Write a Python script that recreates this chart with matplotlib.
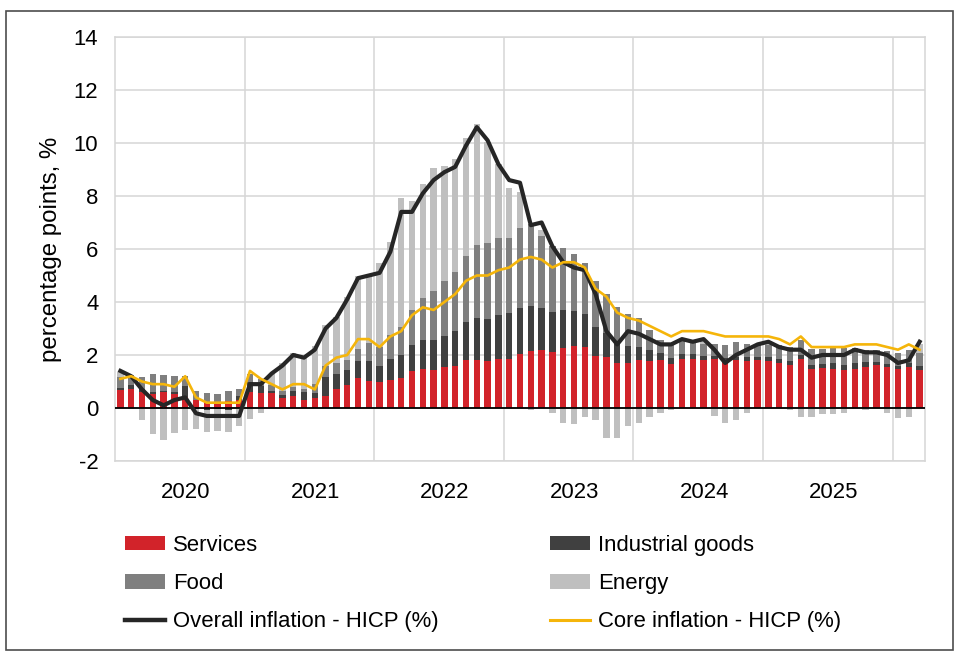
import matplotlib
matplotlib.use("Agg")
import matplotlib.pyplot as plt
import numpy as np
from matplotlib.patches import Rectangle, Patch
from matplotlib.lines import Line2D
import matplotlib.transforms as mtransforms

plt.rcParams['font.family'] = ['Liberation Sans', 'DejaVu Sans']

# ---------------- data (monthly, Jan 2020 - Mar 2026) ----------------
years = ['2020', '2021', '2022', '2023', '2024', '2025']

services = [0.68, 0.72, 0.59, 0.54, 0.59, 0.54, 0.41, 0.32, 0.23, 0.18, 0.27, 0.32,
            0.59, 0.55, 0.55, 0.38, 0.46, 0.29, 0.38, 0.46, 0.71, 0.88, 1.13, 1.01,
            0.97, 1.05, 1.13, 1.39, 1.47, 1.43, 1.55, 1.60, 1.81, 1.81, 1.76, 1.85,
            1.85, 2.02, 2.14, 2.18, 2.10, 2.27, 2.35, 2.31, 1.97, 1.93, 1.68, 1.68,
            1.80, 1.76, 1.80, 1.67, 1.85, 1.85, 1.80, 1.85, 1.80, 1.80, 1.76, 1.80,
            1.79, 1.70, 1.61, 1.84, 1.47, 1.52, 1.47, 1.43, 1.47, 1.56, 1.61, 1.56,
            1.47, 1.56, 1.45]

industrial = [0.08, 0.13, 0.13, 0.08, 0.05, 0.05, 0.42, -0.03, -0.08, -0.03, -0.08, 0.13,
              0.41, 0.27, 0.08, 0.11, 0.19, 0.32, 0.19, 0.70, 0.57, 0.54, 0.65, 0.78,
              0.60, 0.81, 0.88, 0.99, 1.09, 1.12, 1.17, 1.30, 1.43, 1.59, 1.59, 1.66,
              1.74, 1.77, 1.72, 1.61, 1.51, 1.43, 1.30, 1.22, 1.07, 0.91, 0.75, 0.65,
              0.52, 0.42, 0.29, 0.23, 0.18, 0.18, 0.18, 0.10, 0.10, 0.13, 0.16, 0.13,
              0.13, 0.16, 0.16, 0.16, 0.16, 0.13, 0.21, 0.21, 0.21, 0.16, 0.13, 0.10,
              0.10, 0.13, 0.13]

food = [0.42, 0.40, 0.46, 0.68, 0.61, 0.61, 0.38, 0.32, 0.34, 0.36, 0.36, 0.25,
        0.29, 0.27, 0.23, 0.15, 0.13, 0.11, 0.34, 0.42, 0.40, 0.40, 0.46, 0.67,
        0.74, 0.88, 1.05, 1.32, 1.58, 1.87, 2.06, 2.23, 2.48, 2.75, 2.86, 2.90,
        2.82, 3.00, 3.10, 2.70, 2.50, 2.32, 2.16, 1.94, 1.76, 1.48, 1.38, 1.22,
        1.06, 0.76, 0.49, 0.53, 0.49, 0.48, 0.44, 0.46, 0.46, 0.55, 0.51, 0.49,
        0.44, 0.51, 0.55, 0.57, 0.61, 0.59, 0.63, 0.61, 0.57, 0.48, 0.46, 0.49,
        0.50, 0.48, 0.50]

energy = [0.19, -0.03, -0.45, -0.97, -1.19, -0.93, -0.84, -0.78, -0.82, -0.82, -0.83, -0.69,
          -0.42, -0.17, 0.43, 1.04, 1.31, 1.26, 1.43, 1.54, 1.76, 2.37, 2.75, 2.60,
          3.17, 3.52, 4.88, 4.13, 4.30, 4.62, 4.36, 4.25, 4.48, 4.57, 3.84, 2.81,
          1.89, 1.37, -0.09, 0.24, -0.18, -0.56, -0.61, -0.33, -0.46, -1.12, -1.15, -0.67,
          -0.58, -0.35, -0.17, -0.06, 0.03, 0.02, 0.11, -0.29, -0.58, -0.44, -0.19, 0.01,
          0.18, 0.02, -0.09, -0.34, -0.34, -0.24, -0.23, -0.19, -0.04, -0.09, -0.05, -0.18,
          -0.39, -0.35, 0.35]

hicp = [1.4, 1.2, 0.7, 0.3, 0.1, 0.3, 0.4, -0.2, -0.3, -0.3, -0.3, -0.3,
        0.9, 0.9, 1.3, 1.6, 2.0, 1.9, 2.2, 3.0, 3.4, 4.1, 4.9, 5.0,
        5.1, 5.9, 7.4, 7.4, 8.1, 8.6, 8.9, 9.1, 9.9, 10.6, 10.1, 9.2,
        8.6, 8.5, 6.9, 7.0, 6.1, 5.5, 5.3, 5.2, 4.3, 2.9, 2.4, 2.9,
        2.8, 2.6, 2.4, 2.4, 2.6, 2.5, 2.6, 2.2, 1.7, 2.0, 2.2, 2.4,
        2.5, 2.3, 2.2, 2.2, 1.9, 2.0, 2.0, 2.0, 2.2, 2.1, 2.1, 2.0,
        1.7, 1.8, 2.5]

core = [1.1, 1.2, 1.0, 0.9, 0.9, 0.8, 1.2, 0.4, 0.2, 0.2, 0.2, 0.2,
        1.4, 1.1, 0.9, 0.7, 0.9, 0.9, 0.7, 1.6, 1.9, 2.0, 2.6, 2.6,
        2.3, 2.7, 2.9, 3.5, 3.8, 3.7, 4.0, 4.3, 4.8, 5.0, 5.0, 5.2,
        5.3, 5.6, 5.7, 5.6, 5.3, 5.5, 5.5, 5.3, 4.5, 4.2, 3.6, 3.4,
        3.3, 3.1, 2.9, 2.7, 2.9, 2.9, 2.9, 2.8, 2.7, 2.7, 2.7, 2.7,
        2.7, 2.6, 2.4, 2.7, 2.3, 2.3, 2.3, 2.3, 2.4, 2.4, 2.4, 2.3,
        2.2, 2.4, 2.2]

y_ticks = [-2, 0, 2, 4, 6, 8, 10, 12, 14]

# ---------------- style ----------------
C_SERV = '#d2232a'
C_IND = '#404040'
C_FOOD = '#7f7f7f'
C_ENER = '#bfbfbf'
C_HICP = '#262626'
C_CORE = '#f5b50a'
C_GRID = '#d6d6d6'
FS = 15.9

W, H = 957, 651
fig = plt.figure(figsize=(W / 100, H / 100), dpi=100)
ax = fig.add_axes([115 / W, 1 - 461 / H, 810 / W, 424 / H])

n = len(hicp)
x = np.arange(n)

pos_bottom = np.zeros(n)
neg_bottom = np.zeros(n)
for vals, col in [(services, C_SERV), (industrial, C_IND), (food, C_FOOD), (energy, C_ENER)]:
    v = np.asarray(vals, dtype=float)
    bottom = np.where(v >= 0, pos_bottom, neg_bottom)
    ax.bar(x, v, width=0.6, bottom=bottom, color=col, linewidth=0, zorder=2)
    pos_bottom += np.where(v >= 0, v, 0)
    neg_bottom += np.where(v < 0, v, 0)

ax.axhline(0, color='black', lw=1.3, zorder=3)
ax.plot(x, hicp, color=C_HICP, lw=3.0, zorder=4)
ax.plot(x, core, color=C_CORE, lw=1.9, zorder=5)

ax.set_xlim(-0.5, n - 0.5)
ax.set_ylim(-2, 14)
ax.set_yticks(y_ticks)
ax.set_yticklabels([str(t) for t in y_ticks])
ax.set_xticks(np.arange(11.5, n - 1, 12))
ax.set_xticklabels([])
ax.tick_params(axis='both', length=0)
ax.tick_params(axis='y', labelsize=FS, pad=12)
ax.grid(True, color=C_GRID, lw=1.1, zorder=0)
ax.set_axisbelow(True)
for sp in ax.spines.values():
    sp.set_color(C_GRID)
    sp.set_linewidth(1.1)

trans = mtransforms.blended_transform_factory(ax.transData, ax.transAxes)
for k, yr in enumerate(years):
    ax.text(12 * k + 5.5 + 0.55, (461 - 492) / 424, yr, transform=trans,
            ha='center', va='center', fontsize=FS)

fig.text(51 / W, 1 - 249 / H, 'percentage points, %', rotation=90,
         ha='center', va='center', fontsize=17.3)

# ---------------- legend ----------------
h1 = [Patch(facecolor=C_SERV, edgecolor='none'),
      Patch(facecolor=C_FOOD, edgecolor='none'),
      Line2D([], [], color=C_HICP, lw=3.2)]
l1 = ['Services', 'Food', 'Overall inflation - HICP (%)']
h2 = [Patch(facecolor=C_IND, edgecolor='none'),
      Patch(facecolor=C_ENER, edgecolor='none'),
      Line2D([], [], color=C_CORE, lw=2.2)]
l2 = ['Industrial goods', 'Energy', 'Core inflation - HICP (%)']

common = dict(loc='upper left', frameon=False, fontsize=FS, borderpad=0,
              borderaxespad=0, handlelength=1.8, handleheight=0.62,
              handletextpad=0.36, labelspacing=0.78)
leg1 = fig.legend(h1, l1, bbox_to_anchor=(125 / W, 1 - 535 / H), **common)
leg2 = fig.legend(h2, l2, bbox_to_anchor=(550 / W, 1 - 535 / H), **common)

# outer border
fig.add_artist(Rectangle((6 / W, 1 - 650 / H), (953 - 6) / W, (650 - 11) / H,
                         transform=fig.transFigure, fill=False,
                         edgecolor='#4d4d4d', lw=1.2))

fig.savefig('out.png', dpi=100)
